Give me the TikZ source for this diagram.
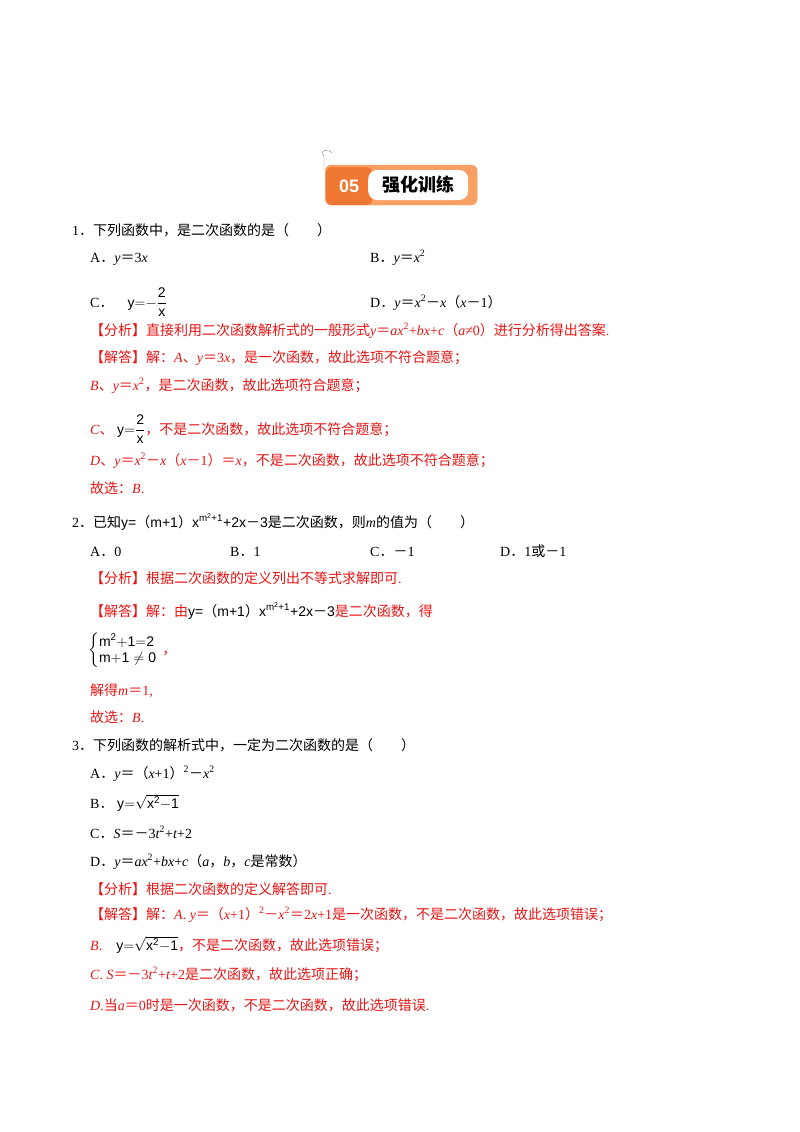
\documentclass[tikz,border=0pt]{standalone}
\usepackage{amsmath}
\usepackage{fontspec}
\setmainfont{Liberation Serif}
\setsansfont{Liberation Sans}
\newfontfamily\cjk{Noto Sans CJK SC}
\definecolor{ans}{RGB}{230,20,20}
\definecolor{orA}{RGB}{240,120,50}
\definecolor{orB}{RGB}{248,160,100}
\newcommand{\zh}[1]{{\cjk #1}}
\newcommand{\iv}[1]{\textit{#1}}
\newcommand{\EQ}{{\cjk ＝}}
\newcommand{\LP}{{\cjk （}}
\newcommand{\RP}{{\cjk ）}}
\newcommand{\DT}{{\cjk ．}}
\newcommand{\CM}{{\cjk ，}}
\newcommand{\MI}{{\cjk －}}
\begin{document}
\begin{tikzpicture}[x=1pt,y=-1pt,
  tl/.style={anchor=base west,inner sep=0pt,font=\fontsize{14}{16}\selectfont},
  rd/.style={tl,text=ans}]
\useasboundingbox (0,0) rectangle (800,1132);
% header badge
\node[draw=orB,fill=orB,rounded corners=6pt,minimum width=152pt,minimum height=40pt,anchor=west] (hb) at (325,185) {\phantom{x}};
\node[fill=orA,rounded corners=5pt,minimum width=46pt,minimum height=38pt,anchor=west,text=white,font=\sffamily\bfseries\fontsize{18}{20}\selectfont] (h05) at (326,186) {05};
\node[fill=white,rounded corners=9pt,minimum width=100pt,minimum height=30pt,anchor=west,font=\cjk\bfseries\fontsize{18}{20}\selectfont] (htt) at (368,185) {强化训练};
\draw[gray,thin] (324,170) -- (324,156) .. controls (318,150) and (330,148) .. (332,153);
% Q1
\node[tl] (q1) at (72,235) {1\DT\zh{下列函数中，是二次函数的是（\quad\quad）}};
\node[tl] (q1a) at (90,262) {A\DT\iv{y}\EQ3\iv{x}};
\node[tl] (q1b) at (370,262) {B\DT\iv{y}\EQ\iv{x}\textsuperscript{2}};
\node[tl] (q1c) at (90,307) {C\DT\quad $\mathsf{y{=}{-}\dfrac{2}{x}}$};
\node[tl] (q1d) at (370,307) {D\DT\iv{y}\EQ\iv{x}\textsuperscript{2}\MI\iv{x}\LP\iv{x}\MI1\RP};
\node[rd] (a1) at (90,335) {\zh{【分析】直接利用二次函数解析式的一般形式}\iv{y}\EQ\iv{ax}\textsuperscript{2}+\iv{bx}+\iv{c}\LP\iv{a}≠0\RP\zh{进行分析得出答案}.};
\node[rd] (a2) at (90,362) {\zh{【解答】解：}\iv{A}\zh{、}\iv{y}\EQ3\iv{x}\zh{，是一次函数，故此选项不符合题意；}};
\node[rd] (a3) at (90,390) {\iv{B}\zh{、}\iv{y}\EQ\iv{x}\textsuperscript{2}\zh{，是二次函数，故此选项符合题意；}};
\node[rd] (a4) at (90,434) {\iv{C}\zh{、}\ {\color{black}$\mathsf{y{=}\dfrac{2}{x}}$}\zh{，不是二次函数，故此选项不符合题意；}};
\node[rd] (a5) at (90,465) {\iv{D}\zh{、}\iv{y}\EQ\iv{x}\textsuperscript{2}\MI\iv{x}\LP\iv{x}\MI1\RP\EQ\iv{x}\zh{，不是二次函数，故此选项不符合题意；}};
\node[rd] (a6) at (90,493) {\zh{故选：}\iv{B}.};
% Q2
\node[tl] (q2) at (72,527) {2\DT\zh{已知}{\sffamily y=\LP m+1\RP x\textsuperscript{m\textsuperscript{2}+1}+2x\MI3}\zh{是二次函数，则}\iv{m}\zh{的值为（\quad\quad）}};
\node[tl] (q2a) at (90,556) {A\DT0};
\node[tl] (q2b) at (230,556) {B\DT1};
\node[tl] (q2c) at (370,556) {C\DT\MI1};
\node[tl] (q2d) at (500,556) {D\DT1\zh{或}\MI1};
\node[rd] (b1) at (90,583) {\zh{【分析】根据二次函数的定义列出不等式求解即可}.};
\node[rd] (b2) at (90,616) {\zh{【解答】解：由}{\color{black}\sffamily y=\LP m+1\RP x\textsuperscript{m\textsuperscript{2}+1}+2x\MI3}\zh{是二次函数，得}};
\node[tl] (b3) at (88,654) {$\left\{\begin{array}{@{}l}\mathsf{m^2{+}1{=}2}\\ \mathsf{m{+}1\neq0}\end{array}\right.$\textcolor{ans}{\CM}};
\node[rd] (b4) at (90,695) {\zh{解得}\iv{m}\EQ1,};
\node[rd] (b5) at (90,722) {\zh{故选：}\iv{B}.};
% Q3
\node[tl] (q3) at (72,750) {3\DT\zh{下列函数的解析式中，一定为二次函数的是（\quad\quad）}};
\node[tl] (q3a) at (90,778) {A\DT\iv{y}\EQ\LP\iv{x}+1\RP\textsuperscript{2}\MI\iv{x}\textsuperscript{2}};
\node[tl] (q3b) at (90,808) {B\DT\ $\mathsf{y{=}\sqrt{x^2{-}1}}$};
\node[tl] (q3c) at (90,838) {C\DT\iv{S}\EQ\MI3\iv{t}\textsuperscript{2}+\iv{t}+2};
\node[tl] (q3d) at (90,866) {D\DT\iv{y}\EQ\iv{ax}\textsuperscript{2}+\iv{bx}+\iv{c}\LP\iv{a}\CM\iv{b}\CM\iv{c}\zh{是常数）}};
\node[rd] (c1) at (90,894) {\zh{【分析】根据二次函数的定义解答即可}.};
\node[rd] (c2) at (90,919) {\zh{【解答】解：}\iv{A}. \iv{y}\EQ\LP\iv{x}+1\RP\textsuperscript{2}\MI\iv{x}\textsuperscript{2}\EQ2\iv{x}+1\zh{是一次函数，不是二次函数，故此选项错误；}};
\node[rd] (c3) at (90,950) {\iv{B}.\quad{\color{black}$\mathsf{y{=}\sqrt{x^2{-}1}}$}\zh{，不是二次函数，故此选项错误；}};
\node[rd] (c4) at (90,979) {\iv{C}. \iv{S}\EQ\MI3\iv{t}\textsuperscript{2}+\iv{t}+2\zh{是二次函数，故此选项正确；}};
\node[rd] (c5) at (90,1010) {\iv{D}.\zh{当}\iv{a}\EQ0\zh{时是一次函数，不是二次函数，故此选项错误}.};
\end{tikzpicture}
\end{document}
